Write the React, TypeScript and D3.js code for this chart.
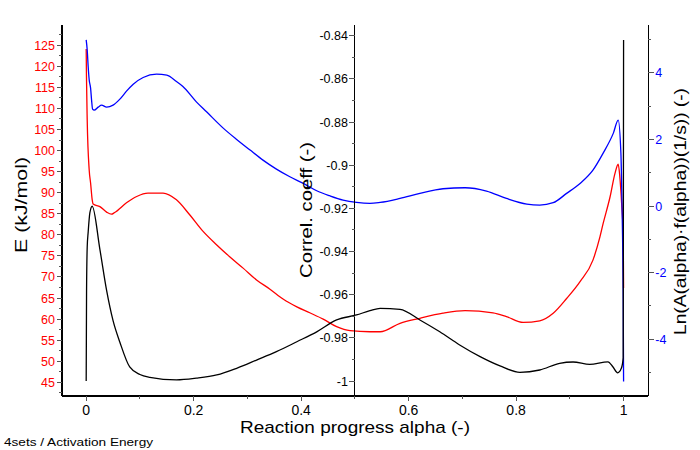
import React from "react";
import * as d3 from "d3";

// ---------- data ----------
// Activation energy E (kJ/mol) vs reaction progress alpha (red, left axis)
const eAlpha = [0, 0.0005, 0.0019, 0.0056, 0.0082, 0.0112, 0.013, 0.0255, 0.038, 0.047, 0.053, 0.075, 0.094, 0.115, 0.143, 0.168, 0.193, 0.218, 0.243, 0.267, 0.292, 0.317, 0.342, 0.367, 0.392, 0.416, 0.441, 0.466, 0.491, 0.528, 0.547, 0.584, 0.621, 0.664, 0.705, 0.757, 0.782, 0.813, 0.844, 0.869, 0.894, 0.919, 0.943, 0.956, 0.962, 0.975, 0.984, 0.99, 0.993, 0.9963, 0.9993, 1.0];
const eValues = [124.1, 117.9, 107.3, 95.4, 92.3, 88.3, 87.3, 86.7, 85.4, 84.9, 85.3, 87.6, 89.1, 89.9, 89.9, 88.3, 84.7, 80.75, 77.6, 74.8, 72.1, 69.3, 67.1, 64.7, 62.9, 61.5, 60.0, 58.2, 57.25, 57.0, 57.0, 59.0, 60.2, 61.4, 62.0, 61.5, 60.6, 59.2, 59.6, 61.4, 64.9, 68.9, 74.0, 79.5, 82.7, 89.1, 94.6, 96.75, 93.8, 87.6, 80.0, 67.4];

// Ln(A(alpha)·f(alpha)) (blue, right axis)
const lnAlpha = [0, 0.0019, 0.0037, 0.0056, 0.0082, 0.01, 0.0119, 0.0149, 0.0223, 0.0287, 0.038, 0.05, 0.0627, 0.075, 0.0875, 0.106, 0.131, 0.15, 0.168, 0.18, 0.205, 0.224, 0.255, 0.28, 0.305, 0.329, 0.354, 0.379, 0.404, 0.429, 0.453, 0.478, 0.503, 0.528, 0.547, 0.584, 0.621, 0.664, 0.705, 0.745, 0.782, 0.82, 0.844, 0.869, 0.894, 0.919, 0.943, 0.962, 0.981, 0.99, 0.995, 0.997, 0.9993, 1.0];
const lnValues = [4.99, 4.69, 4.19, 3.79, 3.54, 3.19, 2.91, 2.88, 2.97, 3.03, 2.97, 3.03, 3.21, 3.45, 3.66, 3.86, 3.96, 3.93, 3.74, 3.59, 3.13, 2.83, 2.34, 2.0, 1.68, 1.38, 1.11, 0.88, 0.68, 0.46, 0.31, 0.18, 0.11, 0.08, 0.11, 0.23, 0.38, 0.52, 0.55, 0.45, 0.23, 0.06, 0.03, 0.1, 0.38, 0.68, 1.08, 1.59, 2.19, 2.58, 1.59, 0.09, -2.82, -5.27];

// Correlation coefficient (black, middle axis)
const rAlpha = [0, 0.0007, 0.0019, 0.0037, 0.0069, 0.0112, 0.0255, 0.038, 0.05, 0.0627, 0.081, 0.1, 0.1185, 0.168, 0.205, 0.243, 0.28, 0.317, 0.354, 0.392, 0.429, 0.466, 0.503, 0.528, 0.547, 0.584, 0.621, 0.658, 0.695, 0.733, 0.77, 0.807, 0.844, 0.881, 0.906, 0.937, 0.971, 0.98, 0.989, 0.996, 0.9993, 1.0];
const rValues = [-1.0, -0.958, -0.938, -0.931, -0.922, -0.919, -0.939, -0.958, -0.972, -0.982, -0.9935, -0.997, -0.9983, -0.9995, -0.9987, -0.9972, -0.9941, -0.9903, -0.9864, -0.9818, -0.9772, -0.9717, -0.9694, -0.9674, -0.9663, -0.9668, -0.9717, -0.9772, -0.9833, -0.9887, -0.993, -0.996, -0.9949, -0.9918, -0.9912, -0.9923, -0.9911, -0.9934, -0.9962, -0.994, -0.9893, -0.842];

// ---------- ticks ----------
const alphaTicks = [0, 0.2, 0.4, 0.6, 0.8, 1];
const alphaTickLabels = ["0", "0.2", "0.4", "0.6", "0.8", "1"];
const alphaMinorTicks = [0.1, 0.3, 0.5, 0.7, 0.9];
const eTicks = [45, 50, 55, 60, 65, 70, 75, 80, 85, 90, 95, 100, 105, 110, 115, 120, 125];
const eMinorTicks = [42.5, 47.5, 52.5, 57.5, 62.5, 67.5, 72.5, 77.5, 82.5, 87.5, 92.5, 97.5, 102.5, 107.5, 112.5, 117.5, 122.5, 127.5];
const rTicks = [-1, -0.98, -0.96, -0.94, -0.92, -0.9, -0.88, -0.86, -0.84];
const rTickLabels = ["-1", "-0.98", "-0.96", "-0.94", "-0.92", "-0.9", "-0.88", "-0.86", "-0.84"];
const rMinorTicks = [-0.99, -0.97, -0.95, -0.93, -0.91, -0.89, -0.87, -0.85];
const lnTicks = [-4, -2, 0, 2, 4];
const lnMinorTicks = [-5, -3, -1, 1, 3, 5];

const xTitle = "Reaction progress alpha (-)";
const eTitle = "E (kJ/mol)";
const rTitle = "Correl. coeff (-)";
const lnTitle = "Ln(A(alpha)·f(alpha))(1/s)) (-)";
const footnote = "4sets / Activation Energy";

// ---------- layout ----------
const W = 700;
const H = 450;
const left = 62;
const right = 648.3;
const top = 25;
const bottom = 396;
const FONT = "'Liberation Sans', Arial, sans-serif";
const TICK = "#555";

export default function App() {
  const x = d3.scaleLinear().domain([-0.045, 1.046]).range([left, right]);
  const yE = d3.scaleLinear().domain([41.75, 129.8]).range([bottom, top]);
  const yR = d3.scaleLinear().domain([-1.00695, -0.835]).range([bottom, top]);
  const yLn = d3.scaleLinear().domain([-5.704, 5.437]).range([bottom, top]);
  const xMid = x(0.5);

  const lineOf = (xs: number[], ys: number[], y: d3.ScaleLinear<number, number>) =>
    d3
      .line<number>()
      .curve(d3.curveMonotoneX)
      .x((_, i) => x(xs[i]))
      .y((v) => y(v))(ys) || "";

  return (
    <svg width={W} height={H} style={{ position: "absolute", left: 0, top: 0, background: "#fff" }} fontFamily={FONT}>
      <rect x={0} y={0} width={W} height={H} fill="#fff" />
      {/* curves */}
      <path d={lineOf(eAlpha, eValues, yE)} fill="none" stroke="#ff0000" strokeWidth={1.3} />
      <path d={lineOf(lnAlpha, lnValues, yLn)} fill="none" stroke="#0000ff" strokeWidth={1.3} />
      <path d={lineOf(rAlpha, rValues, yR)} fill="none" stroke="#000" strokeWidth={1.3} />

      {/* axes lines */}
      <g stroke="#000" strokeWidth={1.2} shapeRendering="crispEdges">
        <line x1={left} x2={left} y1={top} y2={bottom} />
        <line x1={xMid} x2={xMid} y1={top} y2={bottom} />
        <line x1={right} x2={right} y1={top} y2={bottom} />
        <line x1={left} x2={right} y1={bottom} y2={bottom} />
      </g>

      {/* ticks */}
      <g stroke={TICK} shapeRendering="crispEdges">
        {alphaTicks.map((t) => (
          <line key={"xt" + t} x1={x(t)} x2={x(t)} y1={bottom} y2={bottom + 5} />
        ))}
        {alphaMinorTicks.map((t) => (
          <line key={"xm" + t} x1={x(t)} x2={x(t)} y1={bottom} y2={bottom + 3} />
        ))}
        {eTicks.map((t) => (
          <line key={"et" + t} x1={left - 5} x2={left} y1={yE(t)} y2={yE(t)} />
        ))}
        {eMinorTicks.map((t) => (
          <line key={"em" + t} x1={left - 3} x2={left} y1={yE(t)} y2={yE(t)} />
        ))}
        {rTicks.map((t) => (
          <line key={"rt" + t} x1={xMid - 6} x2={xMid} y1={yR(t)} y2={yR(t)} />
        ))}
        {rMinorTicks.map((t) => (
          <line key={"rm" + t} x1={xMid - 3} x2={xMid} y1={yR(t)} y2={yR(t)} />
        ))}
        {lnTicks.map((t) => (
          <line key={"lt" + t} x1={right} x2={right + 6} y1={yLn(t)} y2={yLn(t)} />
        ))}
        {lnMinorTicks.map((t) => (
          <line key={"lm" + t} x1={right} x2={right + 3} y1={yLn(t)} y2={yLn(t)} />
        ))}
      </g>

      {/* tick labels */}
      <g fontSize={14} fill="#000" textAnchor="middle">
        {alphaTicks.map((t, i) => (
          <text key={"xl" + t} x={x(t)} y={415}>{alphaTickLabels[i]}</text>
        ))}
      </g>
      <g fontSize={12.5} fill="#ff0000" textAnchor="end">
        {eTicks.map((t) => (
          <text key={"el" + t} x={55} y={yE(t) + 4.5}>{String(t)}</text>
        ))}
      </g>
      <g fontSize={12.5} fill="#000" textAnchor="end">
        {rTicks.map((t, i) => (
          <text key={"rl" + t} x={xMid - 7} y={yR(t) + 4.5}>{rTickLabels[i]}</text>
        ))}
      </g>
      <g fontSize={12.5} fill="#0000ff" textAnchor="start">
        {lnTicks.map((t) => (
          <text key={"ll" + t} x={right + 7} y={yLn(t) + 4.5}>{String(t)}</text>
        ))}
      </g>

      {/* titles */}
      <text x={355} y={433} fontSize={17} textAnchor="middle" textLength={230} lengthAdjust="spacingAndGlyphs">{xTitle}</text>
      <text transform="translate(27,205) rotate(-90)" fontSize={17} textAnchor="middle" textLength={96} lengthAdjust="spacingAndGlyphs">{eTitle}</text>
      <text transform="translate(312,210) rotate(-90)" fontSize={17} textAnchor="middle" textLength={136} lengthAdjust="spacingAndGlyphs">{rTitle}</text>
      <text transform="translate(686,211.5) rotate(-90)" fontSize={17} textAnchor="middle" textLength={247} lengthAdjust="spacingAndGlyphs">{lnTitle}</text>
      <text x={4} y={446} fontSize={11} textLength={149} lengthAdjust="spacingAndGlyphs">{footnote}</text>
    </svg>
  );
}
